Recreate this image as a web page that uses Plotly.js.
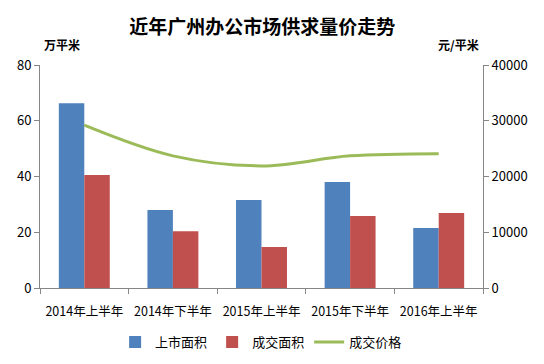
<!DOCTYPE html>
<html><head><meta charset="utf-8">
<script src="https://cdn.plot.ly/plotly-3.0.1.min.js"></script>
<style>body{margin:0;background:#fff}#c{width:544px;height:364px}</style>
</head><body><div id="c"></div>
<script>
const categories = ["2014年上半年","2014年下半年","2015年上半年","2015年下半年","2016年上半年"];
const listedArea = [66.3, 28.0, 31.6, 38.0, 21.5];
const dealArea = [40.5, 20.4, 14.7, 25.8, 26.9];
const dealPrice = [29200, 23700, 21900, 23700, 24100];

const F = '"Microsoft YaHei","Noto Sans CJK SC",sans-serif';
const data = [
  {type:'bar', name:'上市面积', x:categories, y:listedArea, marker:{color:'#4F81BD'}},
  {type:'bar', name:'成交面积', x:categories, y:dealArea, marker:{color:'#C0504D'}},
  {type:'scatter', mode:'lines', name:'成交价格', x:categories, y:dealPrice, yaxis:'y2',
   line:{color:'#9BBB59', width:3, shape:'spline', smoothing:1}}
];
const layout = {
  width:544, height:364,
  margin:{l:40, r:61, t:65, b:76},
  paper_bgcolor:'#fff', plot_bgcolor:'#fff',
  font:{family:F, size:13, color:'#000'},
  title:{text:'<b>近年广州办公市场供求量价走势</b>', x:0.482, xanchor:'center', y:0.925, yanchor:'middle', font:{family:F, size:19, color:'#000'}},
  barmode:'group', bargap:0.425, bargroupgap:0,
  showlegend:true,
  legend:{orientation:'h', x:0.48, xanchor:'center', xref:'container', y:0.06, yref:'container', yanchor:'middle', font:{family:F, size:13}, itemwidth:30, traceorder:'normal'},
  xaxis:{showline:true, linecolor:'#868686', linewidth:1, ticks:'outside', ticklen:5, tickcolor:'#868686', tickson:'boundaries', showgrid:false, tickangle:0, automargin:false, ticklabelstandoff:12, tickfont:{family:F, size:12.5}},
  yaxis:{range:[0,80], dtick:20, showline:true, linecolor:'#868686', ticks:'outside', ticklen:5, tickcolor:'#868686', showgrid:false, zeroline:false, automargin:false, tickfont:{family:F, size:13}},
  yaxis2:{range:[0,40000], dtick:10000, tickformat:'d', overlaying:'y', side:'right', showline:true, linecolor:'#868686', ticks:'outside', ticklen:5, tickcolor:'#868686', showgrid:false, zeroline:false, automargin:false, tickfont:{family:F, size:13}},
  annotations:[
    {text:'<b>万平米</b>', xref:'paper', yref:'paper', x:0.005, y:1.09, xanchor:'left', yanchor:'middle', showarrow:false, font:{family:F, size:12}},
    {text:'<b>元/平米</b>', xref:'paper', yref:'paper', x:0.995, y:1.09, xanchor:'right', yanchor:'middle', showarrow:false, font:{family:F, size:12}}
  ]
};
Plotly.newPlot('c', data, layout, {displayModeBar:false, staticPlot:true});
</script></body></html>
